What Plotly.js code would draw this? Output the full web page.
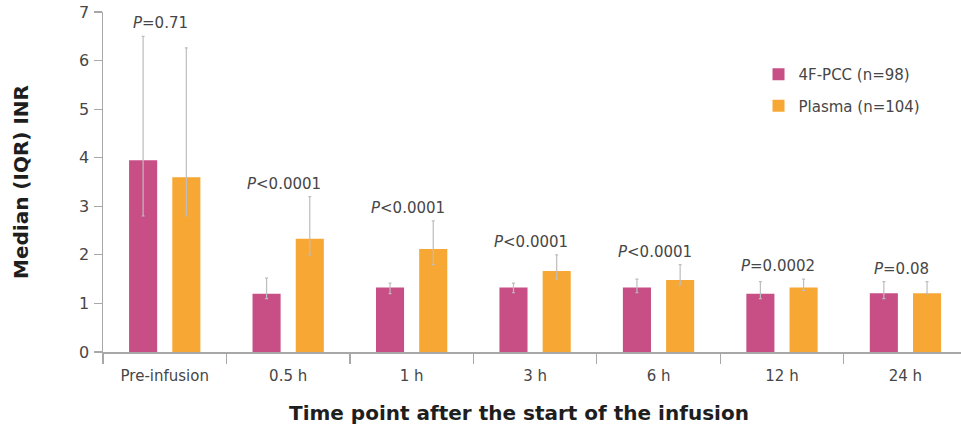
<!DOCTYPE html>
<html>
<head>
<meta charset="utf-8">
<script src="https://cdn.plot.ly/plotly-3.0.1.min.js"></script>
<style>
  html, body { margin: 0; padding: 0; background: #ffffff; }
  #chart { width: 961px; height: 427px; }
</style>
</head>
<body>
<div id="chart"></div>
<script>
// Time points after the start of the infusion
const timePoints = ['Pre-infusion', '0.5 h', '1 h', '3 h', '6 h', '12 h', '24 h'];

// 4F-PCC group: median INR and interquartile range
const pccMedian = [3.95, 1.2, 1.33, 1.33, 1.33, 1.2, 1.21];
const pccQ1     = [2.8, 1.1, 1.2, 1.22, 1.22, 1.1, 1.1];
const pccQ3     = [6.5, 1.52, 1.42, 1.42, 1.5, 1.45, 1.45];

// Plasma group: median INR and interquartile range
const plasmaMedian = [3.6, 2.33, 2.12, 1.67, 1.48, 1.33, 1.21];
const plasmaQ1     = [2.8, 2.0, 1.8, 1.5, 1.38, 1.27, 1.2];
const plasmaQ3     = [6.26, 3.2, 2.7, 2.0, 1.8, 1.5, 1.45];

// Between-group comparison at each time point
const pLabels = ['=0.71', '<0.0001', '<0.0001', '<0.0001', '<0.0001', '=0.0002', '=0.08'];

const FONT = '"DejaVu Sans", "Noto Sans", sans-serif';
const TEXT = '#464646';

function iqrBars(median, q1, q3) {
  return {
    type: 'data',
    symmetric: false,
    array: q3.map((v, i) => v - median[i]),
    arrayminus: median.map((v, i) => v - q1[i]),
    color: '#bdbdbd',
    thickness: 1.2,
    width: 1.5
  };
}

const traces = [
  {
    type: 'bar',
    name: '4F-PCC (n=98)',
    legendgroup: 'pcc',
    x: timePoints,
    y: pccMedian,
    marker: { color: '#C74F86' },
    error_y: iqrBars(pccMedian, pccQ1, pccQ3),
    hoverinfo: 'skip'
  },
  {
    type: 'bar',
    name: 'Plasma (n=104)',
    legendgroup: 'plasma',
    x: timePoints,
    y: plasmaMedian,
    marker: { color: '#F7A733' },
    error_y: iqrBars(plasmaMedian, plasmaQ1, plasmaQ3),
    hoverinfo: 'skip'
  }
];

// P-value labels sit just above the taller upper quartile of each pair
const annotations = timePoints.map((t, i) => ({
  x: t,
  y: Math.max(pccQ3[i], plasmaQ3[i]),
  xref: 'x',
  yref: 'y',
  text: '<i>P</i>' + pLabels[i],
  showarrow: false,
  yanchor: 'bottom',
  yshift: 2,
  xshift: -4,
  font: { family: FONT, size: 15, color: TEXT }
}));

// Horizontal axis caption, placed slightly left of the plot centre
annotations.push({
  text: 'Time point after the start of the infusion',
  xref: 'paper',
  yref: 'paper',
  x: 0.485,
  y: -0.179,
  xanchor: 'center',
  yanchor: 'middle',
  showarrow: false,
  font: { family: FONT, size: 20, color: '#1e1e1e', weight: 'bold' }
});

const layout = {
  width: 961,
  height: 427,
  margin: { l: 103, r: 0, t: 12, b: 75 },
  paper_bgcolor: '#ffffff',
  plot_bgcolor: '#ffffff',
  font: { family: FONT, size: 15, color: TEXT },
  barmode: 'group',
  bargap: 0.3,
  bargroupgap: 0.35,
  showlegend: true,
  legend: {
    x: 0.764,
    y: 0.865,
    xanchor: 'left',
    yanchor: 'top',
    traceorder: 'grouped',
    tracegroupgap: 9,
    font: { family: FONT, size: 15, color: TEXT },
    bgcolor: 'rgba(0,0,0,0)'
  },
  xaxis: {
    type: 'category',
    range: [-0.5, 6.45],
    showline: true,
    linecolor: '#a8a8a8',
    linewidth: 1.5,
    showgrid: false,
    zeroline: false,
    ticks: 'outside',
    tickson: 'boundaries',
    ticklen: 10,
    tickwidth: 1.2,
    tickcolor: '#a8a8a8',
    ticklabelstandoff: 9,
    tickfont: { family: FONT, size: 15, color: TEXT }
  },
  yaxis: {
    range: [0, 7],
    dtick: 1,
    showline: true,
    linecolor: '#a8a8a8',
    linewidth: 1.5,
    showgrid: false,
    zeroline: false,
    ticks: 'outside',
    ticklen: 8,
    tickwidth: 1.2,
    tickcolor: '#a8a8a8',
    ticklabelstandoff: 1,
    tickfont: { family: FONT, size: 16, color: TEXT },
    title: {
      text: 'Median (IQR) INR',
      font: { family: FONT, size: 20, color: '#1e1e1e', weight: 'bold' },
      standoff: 45
    }
  },
  annotations: annotations
};

Plotly.newPlot('chart', traces, layout, { displayModeBar: false, staticPlot: true });
</script>
</body>
</html>
